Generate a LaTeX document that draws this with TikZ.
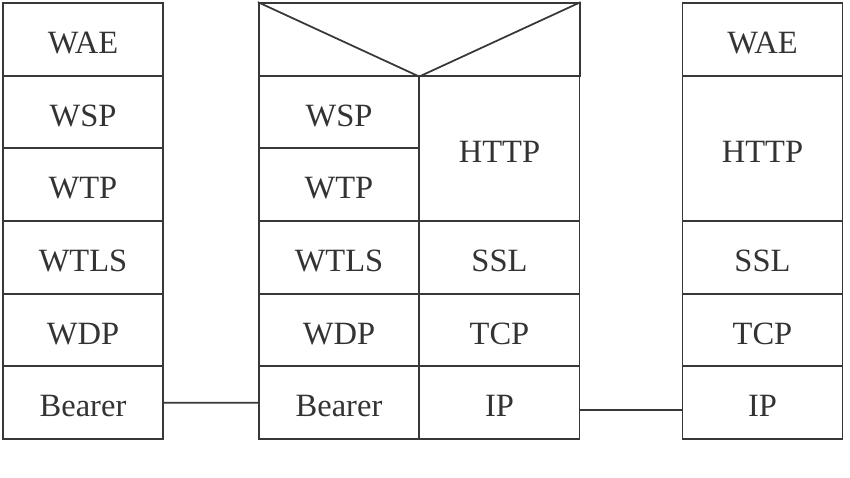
\documentclass[tikz,border=0pt]{standalone}
\usepackage{fontspec}
\setmainfont{Liberation Serif}
\usetikzlibrary{positioning, calc}

\begin{document}
\begin{tikzpicture}
    [
        on grid,
        node distance=1.4533cm and 3.2cm,
        layer/.style={draw=black!78, rectangle, line width=1pt, minimum width=3.2cm,
            minimum height=1.4533cm, text height=0.57cm, text depth=0pt,
            text=black!80, font=\fontsize{18.5}{22}\selectfont},
        link/.style={draw=black!78, line width=1pt}
    ]
        \useasboundingbox (0,0) rectangle (17,9.56);
        % =========================================================================
        % NODES
        % =========================================================================
        % --- Left stack ---
        \node [layer] (wae1) at (1.66,8.773) {WAE};
        \node [layer, below=of wae1] (wsp1) {WSP};
        \node [layer, below=of wsp1] (wtp1) {WTP};
        \node [layer, below=of wtp1] (wtls1) {WTLS};
        \node [layer, below=of wtls1] (wdp1) {WDP};
        \node [layer, below=of wdp1] (bearer1) {Bearer};
        % --- Middle stack ---
        \node [layer, minimum width=6.42cm] (top2) at (8.385,8.773) {};
        \node [layer] (wsp2) at (6.78,7.32) {WSP};
        \node [layer, below=of wsp2] (wtp2) {WTP};
        \node [layer, below=of wtp2] (wtls2) {WTLS};
        \node [layer, below=of wtls2] (wdp2) {WDP};
        \node [layer, below=of wdp2] (bearer2) {Bearer};
        \node [layer, minimum height=2.9067cm] (http2) at ($(wsp2)!0.5!(wtp2)+(3.21,0)$) {HTTP};
        \node [layer, right=3.21cm of wtls2] (ssl2) {SSL};
        \node [layer, right=3.21cm of wdp2] (tcp2) {TCP};
        \node [layer, right=3.21cm of bearer2] (ip2) {IP};
        % --- Right stack ---
        \node [layer] (wae3) at (15.25,8.773) {WAE};
        \node [layer, minimum height=2.9067cm] (http3) at ($(http2)+(5.26,0)$) {HTTP};
        \node [layer, right=5.26cm of ssl2] (ssl3) {SSL};
        \node [layer, right=5.26cm of tcp2] (tcp3) {TCP};
        \node [layer, right=5.26cm of ip2] (ip3) {IP};

        % =========================================================================
        % PATHS
        % =========================================================================
        \draw [link] (top2.north west) -- (top2.south) -- (top2.north east);
        \draw [link] (bearer1.east) -- (bearer2.west);
        \draw [link] (ip2.-5) -- (ip3.185);

    \end{tikzpicture}
\end{document}
